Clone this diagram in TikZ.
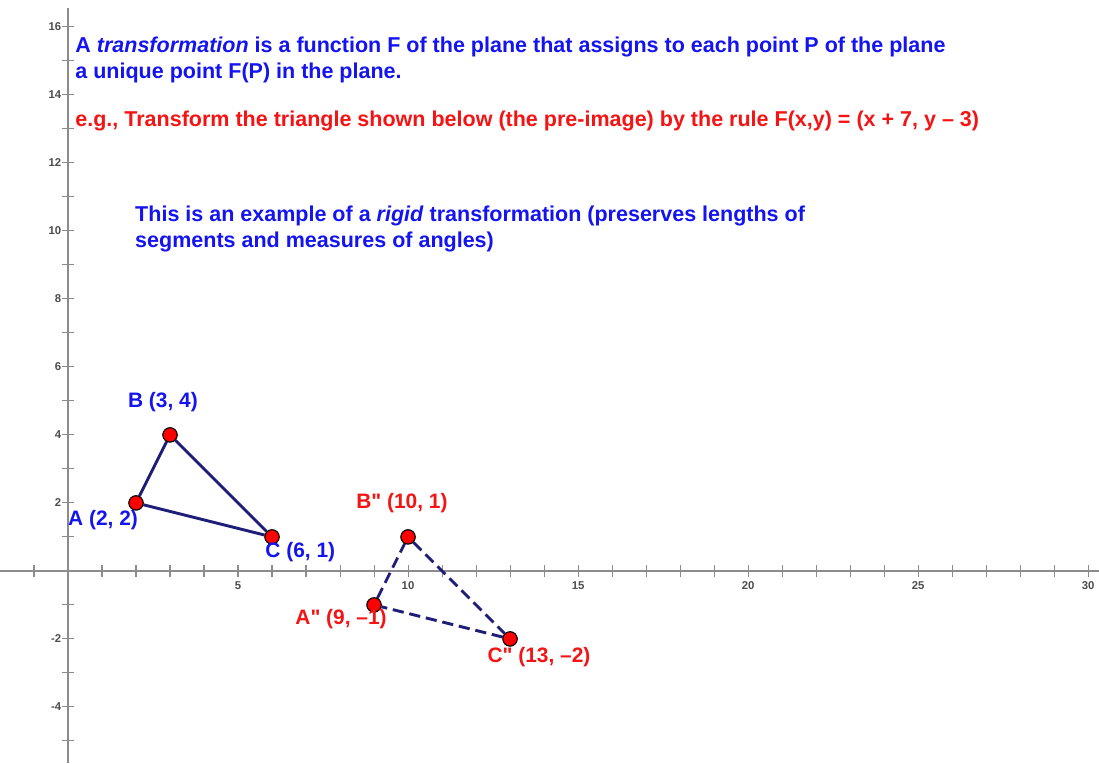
\documentclass[tikz,border=0pt]{standalone}
\usepackage{fontspec}
\setmainfont{Liberation Sans}
\newfontfamily\labfont{Liberation Sans}[Ligatures=TeXOff]
\usetikzlibrary{calc}

\definecolor{navy}{RGB}{30,30,120}
\definecolor{axisgray}{RGB}{140,140,140}
\definecolor{txtblue}{RGB}{20,20,240}
\definecolor{txtred}{RGB}{245,20,20}

\tikzset{
    axis/.style={axisgray, line width=1.2pt},
    tick/.style={axisgray, line width=0.9pt},
    ticklab/.style={font=\fontsize{9.5}{10}\selectfont\bfseries, text=black!70, inner sep=1pt},
    pt/.style={circle, fill=red, draw=black, line width=0.8pt, inner sep=0pt, minimum size=0.42cm},
    side/.style={navy, line width=2.4pt},
    image/.style={side, dash pattern=on 0.33cm off 0.17cm},
    note/.style={font=\fontsize{18}{22}\selectfont\bfseries, align=left, anchor=west, inner sep=0pt},
    ptlab/.style={font=\labfont\fontsize{17.5}{19}\selectfont\bfseries, inner sep=0pt}
}

\begin{document}
\begin{tikzpicture}[x=1cm, y=1cm]
    \useasboundingbox (-2,-5.65) rectangle (30.32,16.79);

    % axes
    \draw[axis] (-2,0) -- (30.32,0);
    \draw[axis] (0,-5.65) -- (0,16.55);
    \foreach \i in {-1,...,30} \draw[tick] (\i,-0.18) -- (\i,0.18);
    \foreach \j in {-5,...,16} \draw[tick] (-0.18,\j) -- (0.18,\j);
    \foreach \i in {5,10,...,30} \node[ticklab, below] (x\i) at (\i,-0.28) {\i};
    \foreach \j in {-4,-2,2,4,...,16} \node[ticklab, left] (y\j) at (-0.16,\j) {\j};

    % text
    \node[note, text=txtblue] (def) at (0.21,15.03) {A \textit{transformation} is a function F of the plane that assigns to each point P of the plane\\a unique point F(P) in the plane.};
    \node[note, text=txtred] (rule) at (0.21,13.24) {e.g., Transform the triangle shown below (the pre-image) by the rule F(x,y) = (x + 7, y -- 3)};
    \node[note, text=txtblue] (rigid) at (1.97,10.05) {This is an example of a \textit{rigid} transformation (preserves lengths of\\segments and measures of angles)};

    % pre-image
    \node[pt] (A) at (2,2) {};
    \node[pt] (B) at (3,4) {};
    \node[pt] (C) at (6,1) {};
    \draw[side] (A) -- (B) -- (C) -- (A);

    % image
    \node[pt] (A2) at (9,-1) {};
    \node[pt] (B2) at (10,1) {};
    \node[pt] (C2) at (13,-2) {};
    \draw[image] (A2) -- (B2) -- (C2) -- (A2);
    \foreach \p in {A,B,C,A2,B2,C2} \node[pt] at (\p) {};

    % labels
    \node[ptlab, text=txtblue] (labA) at (1.03,1.5) {A (2, 2)};
    \node[ptlab, text=txtblue] (labB) at (2.79,4.97) {B (3, 4)};
    \node[ptlab, text=txtblue, anchor=west] (labC) at (5.8,0.55) {C (6, 1)};
    \node[ptlab, text=txtred] (labA2) at (8.03,-1.41) {A" (9, –1)};
    \node[ptlab, text=txtred] (labB2) at (9.82,2.0) {B" (10, 1)};
    \node[ptlab, text=txtred] (labC2) at (13.85,-2.53) {C" (13, –2)};
\end{tikzpicture}
\end{document}
